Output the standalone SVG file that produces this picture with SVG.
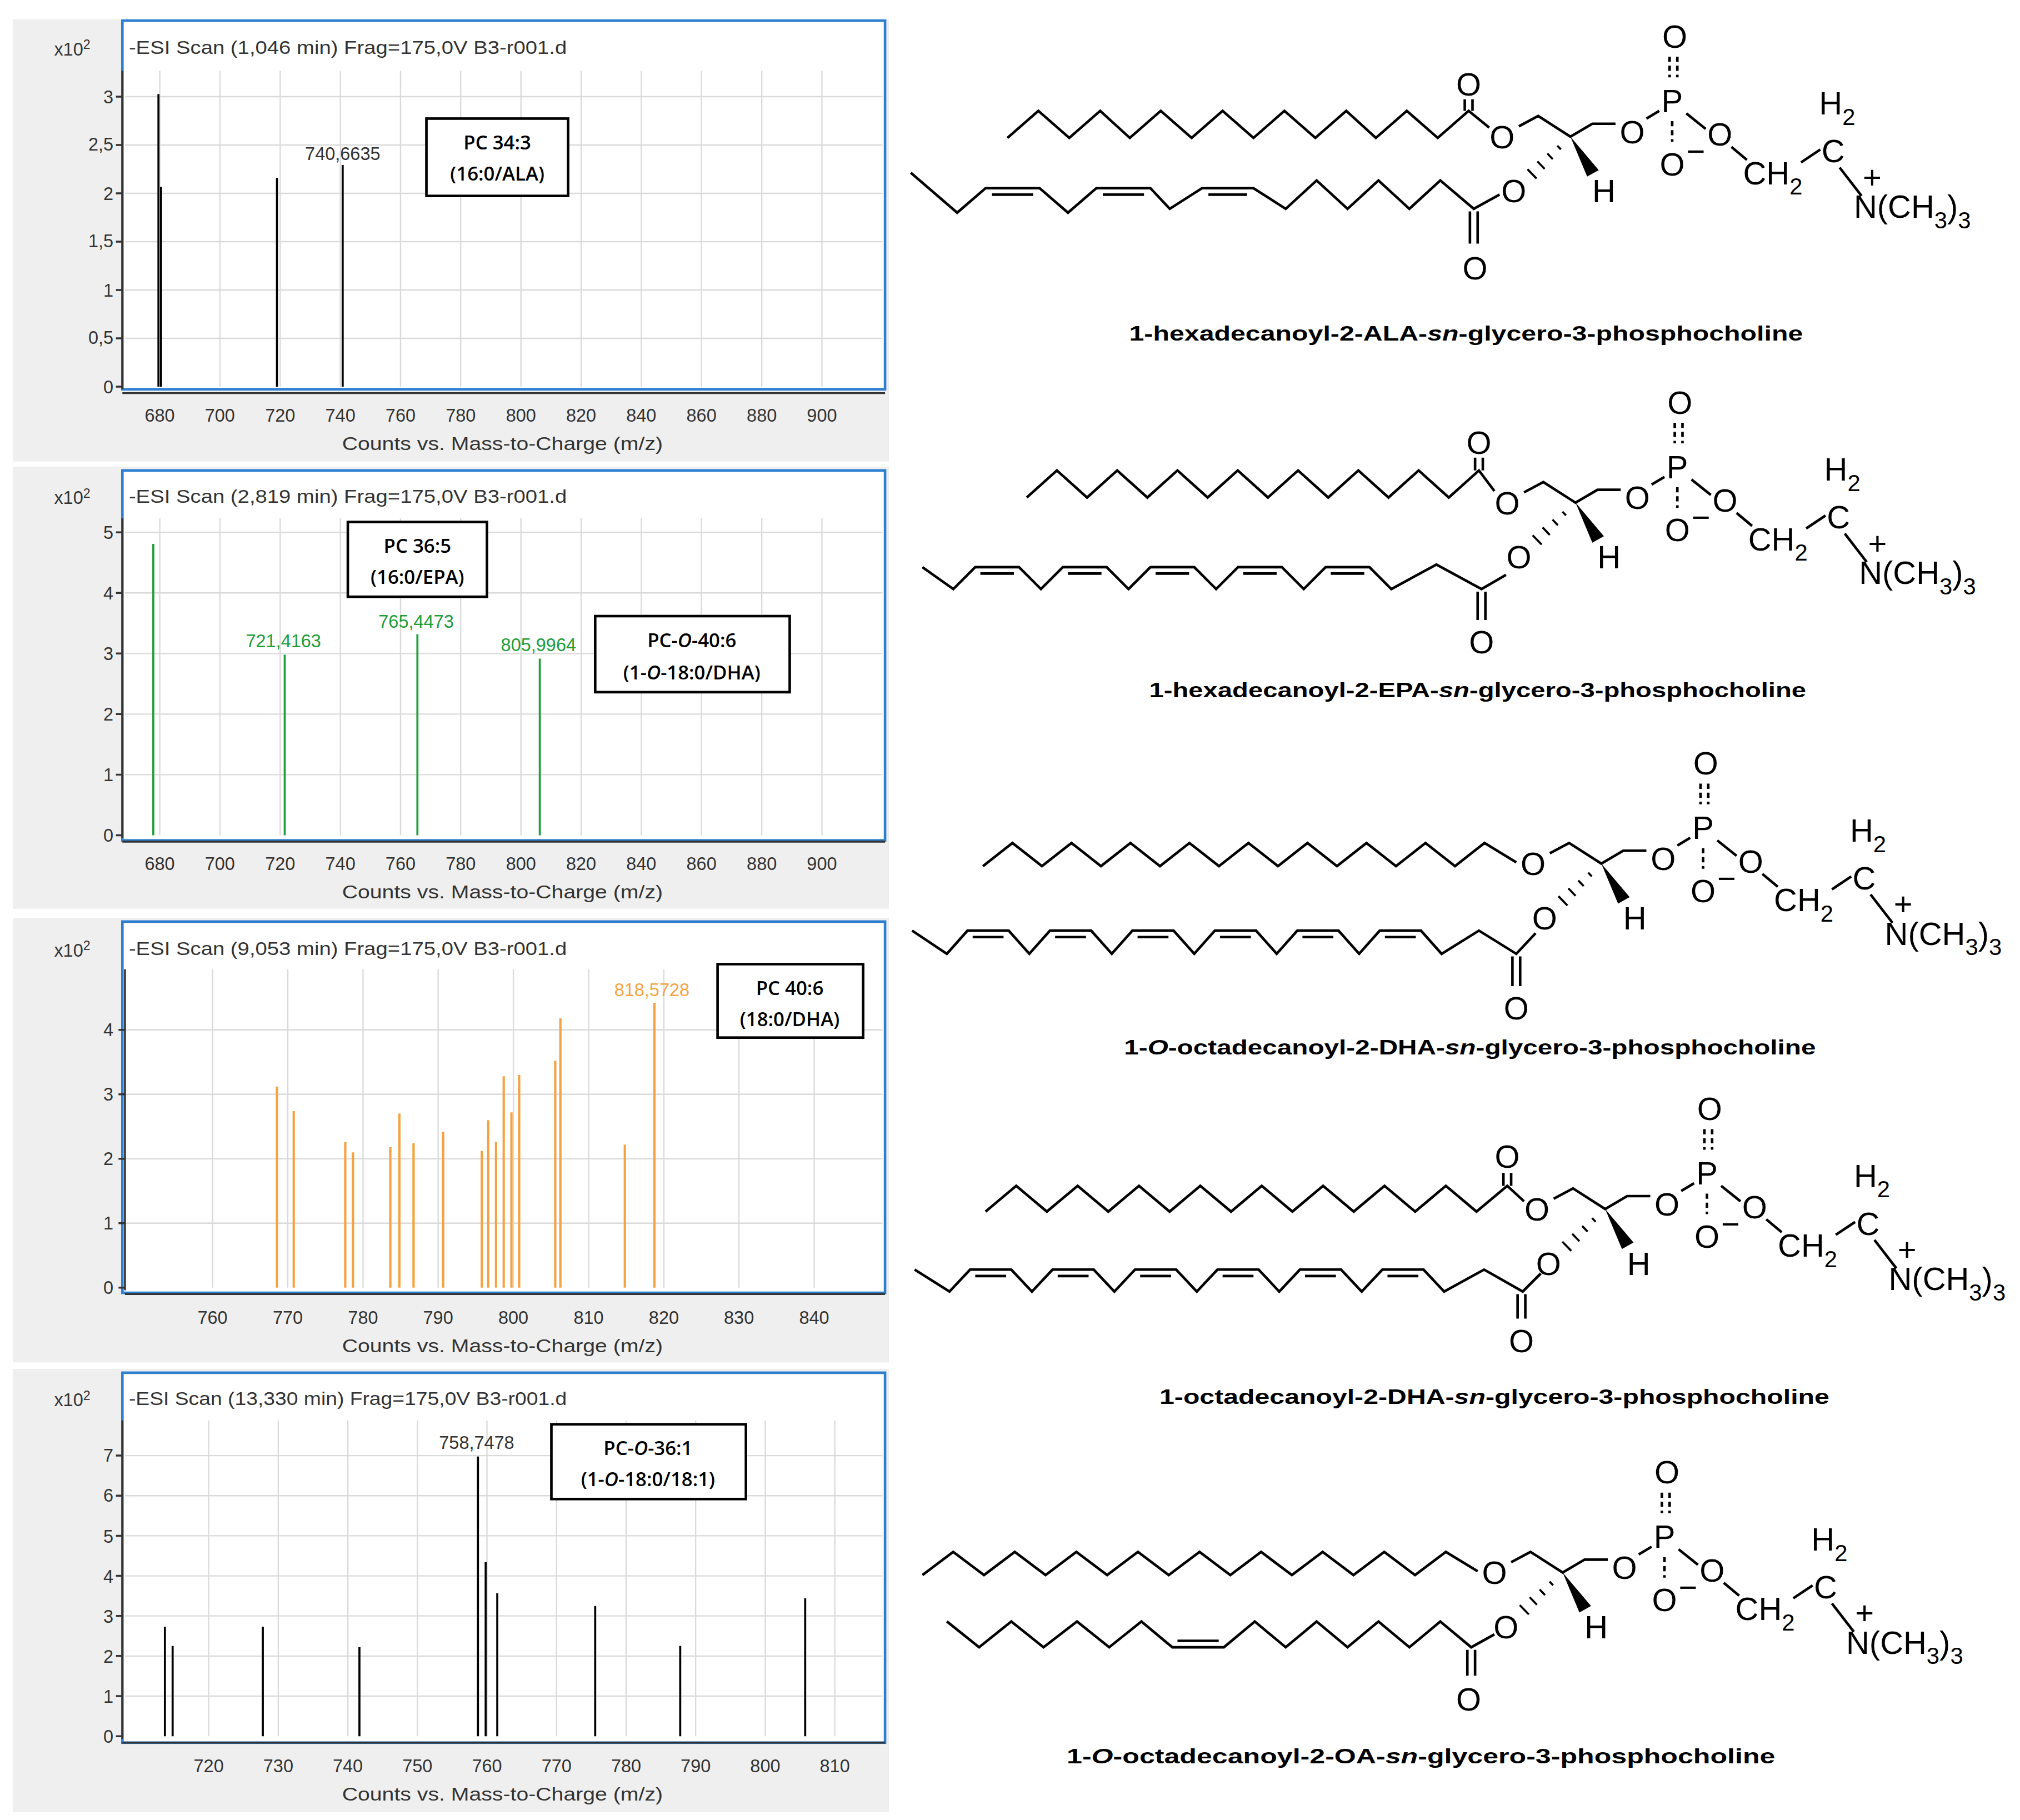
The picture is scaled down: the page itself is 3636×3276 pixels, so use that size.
<svg xmlns="http://www.w3.org/2000/svg" width="3636" height="3276" viewBox="0 0 3636 3276">
<style>
.bg{fill:#efefef}
.fr{fill:#fff;stroke:#2e7fd0;stroke-width:2}
.gr{stroke:#dadada;stroke-width:1}
.ax{stroke:#333;stroke-width:1.5;fill:none}
.tk{font-family:"Liberation Sans",Arial,sans-serif;font-size:14px;fill:#333}
.tl{font-family:"Liberation Sans",Arial,sans-serif;font-size:14px;fill:#333}
.box{fill:#fff;stroke:#000;stroke-width:2}
.bt{font-family:"Open Sans","Liberation Sans",sans-serif;font-size:15px;font-weight:600;fill:#000;text-anchor:middle}
.pk{stroke:#000;stroke-width:1.6}
.pg{stroke:#1f9e3a;stroke-width:1.6}
.po{stroke:#f5a342;stroke-width:1.8}
.bd{stroke:#000;stroke-width:2;fill:none;stroke-linejoin:miter}
.at{font-family:"Liberation Sans",Arial,sans-serif;font-size:25px;fill:#000;text-anchor:middle}
.ats{font-family:"Liberation Sans",Arial,sans-serif;font-size:25px;fill:#000}
.cap{font-family:"Liberation Sans",Arial,sans-serif;font-size:16px;font-weight:bold;fill:#000;text-anchor:middle}
</style>
<defs>
<g id="head">
<text class="at" x="0" y="9">O</text>
<polyline class="bd" points="13,-8 28,-16 53,0 70,-10 88,-10"/>
<text class="at" x="101" y="5">O</text>
<line class="bd" x1="112" y1="-14" x2="122" y2="-20"/>
<text class="at" x="132" y="-19">P</text>
<text class="at" x="134" y="-69">O</text>
<line class="bd" x1="130" y1="-62" x2="130" y2="-46" stroke-dasharray="4 3"/>
<line class="bd" x1="136" y1="-62" x2="136" y2="-46" stroke-dasharray="4 3"/>
<line class="bd" x1="132" y1="-12" x2="132" y2="4" stroke-dasharray="4 3"/>
<text class="at" x="132" y="30">O</text>
<text class="ats" x="143" y="20" font-size="16">−</text>
<line class="bd" x1="143" y1="-18" x2="158" y2="-6"/>
<text class="at" x="169" y="7">O</text>
<line class="bd" x1="178" y1="8" x2="190" y2="18"/>
<text class="ats" x="187" y="37">CH<tspan font-size="18" dy="8">2</tspan></text>
<line class="bd" x1="232" y1="20" x2="247" y2="10"/>
<text class="at" x="257" y="20">C</text>
<text class="ats" x="246" y="-17">H<tspan font-size="18" dy="8">2</tspan></text>
<line class="bd" x1="262" y1="24" x2="279" y2="46"/>
<text class="ats" x="273" y="63">N(CH<tspan font-size="18" dy="8">3</tspan><tspan dy="-8">)</tspan><tspan font-size="18" dy="8">3</tspan></text>
<text class="ats" x="280" y="40" font-size="14">+</text>
<polygon points="53,0 66,31 75,26" fill="#000"/>
<text class="at" x="79" y="51">H</text>
<g stroke="#000" stroke-width="1.6">
<line x1="42.8" y1="7" x2="45.6" y2="9.9"/><line x1="35.1" y1="13.1" x2="39.3" y2="17.5"/><line x1="27.4" y1="19.2" x2="33" y2="25"/><line x1="19.7" y1="25.3" x2="26.7" y2="32.5"/>
</g>
<text class="at" x="9" y="51">O</text>
</g>
</defs>
<rect width="3636" height="3276" fill="#fff"/>
<g transform="scale(2.3189,2.3201)">
<g id="panel1">
<rect class="bg" x="10" y="15" width="680" height="343"/>
<rect class="fr" x="95" y="16" width="592" height="286"/>
<g class="gr">
<line x1="124" y1="55" x2="124" y2="300"/><line x1="170.7" y1="55" x2="170.7" y2="300"/><line x1="217.5" y1="55" x2="217.5" y2="300"/><line x1="264.2" y1="55" x2="264.2" y2="300"/><line x1="310.9" y1="55" x2="310.9" y2="300"/><line x1="357.6" y1="55" x2="357.6" y2="300"/><line x1="404.4" y1="55" x2="404.4" y2="300"/><line x1="451.1" y1="55" x2="451.1" y2="300"/><line x1="497.8" y1="55" x2="497.8" y2="300"/><line x1="544.5" y1="55" x2="544.5" y2="300"/><line x1="591.3" y1="55" x2="591.3" y2="300"/><line x1="638" y1="55" x2="638" y2="300"/>
<line x1="97" y1="262.5" x2="685" y2="262.5"/><line x1="97" y1="225" x2="685" y2="225"/><line x1="97" y1="187.5" x2="685" y2="187.5"/><line x1="97" y1="150" x2="685" y2="150"/><line x1="97" y1="112.5" x2="685" y2="112.5"/><line x1="97" y1="75" x2="685" y2="75"/>
</g>
<path class="ax" d="M95,55V302M90,300H95M90,262.5H95M90,225H95M90,187.5H95M90,150H95M90,112.5H95M90,75H95M95,305H687"/>
<g class="tk" text-anchor="end"><text x="88" y="305">0</text><text x="88" y="267">0,5</text><text x="88" y="230">1</text><text x="88" y="192">1,5</text><text x="88" y="155">2</text><text x="88" y="117">2,5</text><text x="88" y="80">3</text></g>
<g class="tk" text-anchor="middle"><text x="124" y="327">680</text><text x="170.7" y="327">700</text><text x="217.5" y="327">720</text><text x="264.2" y="327">740</text><text x="310.9" y="327">760</text><text x="357.6" y="327">780</text><text x="404.4" y="327">800</text><text x="451.1" y="327">820</text><text x="497.8" y="327">840</text><text x="544.5" y="327">860</text><text x="591.3" y="327">880</text><text x="638" y="327">900</text></g>
<text class="tk" x="390" y="349" text-anchor="middle" textLength="249" lengthAdjust="spacingAndGlyphs">Counts vs. Mass-to-Charge (m/z)</text>
<text class="tl" x="100" y="42" textLength="340" lengthAdjust="spacingAndGlyphs">-ESI Scan (1,046 min) Frag=175,0V B3-r001.d</text>
<text class="tk" x="42" y="43">x10<tspan font-size="10" dy="-5">2</tspan></text>
<line class="pk" x1="123" y1="300" x2="123" y2="73"/><line class="pk" x1="125" y1="300" x2="125" y2="145"/><line class="pk" x1="215" y1="300" x2="215" y2="138"/><line class="pk" x1="266" y1="300" x2="266" y2="128"/>
<text class="tk" x="266" y="124" text-anchor="middle">740,6635</text>
<rect class="box" x="331" y="92" width="110" height="60"/>
<text class="bt" x="386" y="116">PC 34:3</text><text class="bt" x="386" y="140">(16:0/ALA)</text>
</g>
<g id="panel2">
<rect class="bg" x="10" y="362" width="680" height="343"/>
<rect class="fr" x="95" y="365" width="592" height="287"/>
<g class="gr">
<line x1="124" y1="402" x2="124" y2="648"/><line x1="170.7" y1="402" x2="170.7" y2="648"/><line x1="217.5" y1="402" x2="217.5" y2="648"/><line x1="264.2" y1="402" x2="264.2" y2="648"/><line x1="310.9" y1="402" x2="310.9" y2="648"/><line x1="357.6" y1="402" x2="357.6" y2="648"/><line x1="404.4" y1="402" x2="404.4" y2="648"/><line x1="451.1" y1="402" x2="451.1" y2="648"/><line x1="497.8" y1="402" x2="497.8" y2="648"/><line x1="544.5" y1="402" x2="544.5" y2="648"/><line x1="591.3" y1="402" x2="591.3" y2="648"/><line x1="638" y1="402" x2="638" y2="648"/>
<line x1="97" y1="601" x2="685" y2="601"/><line x1="97" y1="554" x2="685" y2="554"/><line x1="97" y1="507" x2="685" y2="507"/><line x1="97" y1="460" x2="685" y2="460"/><line x1="97" y1="413" x2="685" y2="413"/>
</g>
<path class="ax" d="M95,402V650M90,648H95M90,601H95M90,554H95M90,507H95M90,460H95M90,413H95M95,653H687"/>
<g class="tk" text-anchor="end"><text x="88" y="653">0</text><text x="88" y="606">1</text><text x="88" y="559">2</text><text x="88" y="512">3</text><text x="88" y="465">4</text><text x="88" y="418">5</text></g>
<g class="tk" text-anchor="middle"><text x="124" y="675">680</text><text x="170.7" y="675">700</text><text x="217.5" y="675">720</text><text x="264.2" y="675">740</text><text x="310.9" y="675">760</text><text x="357.6" y="675">780</text><text x="404.4" y="675">800</text><text x="451.1" y="675">820</text><text x="497.8" y="675">840</text><text x="544.5" y="675">860</text><text x="591.3" y="675">880</text><text x="638" y="675">900</text></g>
<text class="tk" x="390" y="697" text-anchor="middle" textLength="249" lengthAdjust="spacingAndGlyphs">Counts vs. Mass-to-Charge (m/z)</text>
<text class="tl" x="100" y="390" textLength="340" lengthAdjust="spacingAndGlyphs">-ESI Scan (2,819 min) Frag=175,0V B3-r001.d</text>
<text class="tk" x="42" y="391">x10<tspan font-size="10" dy="-5">2</tspan></text>
<line class="pg" x1="119" y1="648" x2="119" y2="422"/><line class="pg" x1="221" y1="648" x2="221" y2="508"/><line class="pg" x1="324" y1="648" x2="324" y2="492"/><line class="pg" x1="419" y1="648" x2="419" y2="511"/>
<g class="tk" text-anchor="middle" style="fill:#1f9e3a"><text x="220" y="502">721,4163</text><text x="323" y="487">765,4473</text><text x="418" y="505">805,9964</text></g>
<rect class="box" x="270" y="405" width="108" height="58"/>
<text class="bt" x="324" y="429">PC 36:5</text><text class="bt" x="324" y="453">(16:0/EPA)</text>
<rect class="box" x="462" y="478" width="151" height="59"/>
<text class="bt" x="537" y="502">PC-<tspan font-style="italic">O</tspan>-40:6</text><text class="bt" x="537" y="527">(1-<tspan font-style="italic">O</tspan>-18:0/DHA)</text>
</g>
<g id="panel3">
<rect class="bg" x="10" y="712" width="680" height="345"/>
<rect class="fr" x="95" y="715" width="592" height="288"/>
<g class="gr">
<line x1="165" y1="752" x2="165" y2="999"/><line x1="223.4" y1="752" x2="223.4" y2="999"/><line x1="281.8" y1="752" x2="281.8" y2="999"/><line x1="340.1" y1="752" x2="340.1" y2="999"/><line x1="398.5" y1="752" x2="398.5" y2="999"/><line x1="456.9" y1="752" x2="456.9" y2="999"/><line x1="515.3" y1="752" x2="515.3" y2="999"/><line x1="573.6" y1="752" x2="573.6" y2="999"/><line x1="632" y1="752" x2="632" y2="999"/>
<line x1="97" y1="949" x2="685" y2="949"/><line x1="97" y1="899" x2="685" y2="899"/><line x1="97" y1="849" x2="685" y2="849"/><line x1="97" y1="799" x2="685" y2="799"/>
</g>
<path class="ax" d="M97,752V1001M92,999H97M92,949H97M92,899H97M92,849H97M92,799H97M97,1004H687"/>
<g class="tk" text-anchor="end"><text x="88" y="1004">0</text><text x="88" y="954">1</text><text x="88" y="904">2</text><text x="88" y="854">3</text><text x="88" y="804">4</text></g>
<g class="tk" text-anchor="middle"><text x="165" y="1027">760</text><text x="223.4" y="1027">770</text><text x="281.8" y="1027">780</text><text x="340.1" y="1027">790</text><text x="398.5" y="1027">800</text><text x="456.9" y="1027">810</text><text x="515.3" y="1027">820</text><text x="573.6" y="1027">830</text><text x="632" y="1027">840</text></g>
<text class="tk" x="390" y="1049" text-anchor="middle" textLength="249" lengthAdjust="spacingAndGlyphs">Counts vs. Mass-to-Charge (m/z)</text>
<text class="tl" x="100" y="741" textLength="340" lengthAdjust="spacingAndGlyphs">-ESI Scan (9,053 min) Frag=175,0V B3-r001.d</text>
<text class="tk" x="42" y="742">x10<tspan font-size="10" dy="-5">2</tspan></text>
<path class="po" d="M215,999V843M228,999V862M268,999V886M274,999V894M303,999V890M310,999V864M321,999V887M344,999V878M374,999V893M379,999V869M385,999V886M391,999V835M397,999V863M403,999V834M431,999V823M435,999V790M485,999V888M508,999V778"/>
<text class="tk" x="506" y="773" text-anchor="middle" style="fill:#f5a342">818,5728</text>
<rect class="box" x="557" y="748" width="113" height="57"/>
<text class="bt" x="613" y="772">PC 40:6</text><text class="bt" x="613" y="796">(18:0/DHA)</text>
</g>
<g id="panel4">
<rect class="bg" x="10" y="1062" width="680" height="344"/>
<rect class="fr" x="95" y="1065" width="592" height="287"/>
<g class="gr">
<line x1="162" y1="1102" x2="162" y2="1347"/><line x1="216" y1="1102" x2="216" y2="1347"/><line x1="270" y1="1102" x2="270" y2="1347"/><line x1="324" y1="1102" x2="324" y2="1347"/><line x1="378" y1="1102" x2="378" y2="1347"/><line x1="432" y1="1102" x2="432" y2="1347"/><line x1="486" y1="1102" x2="486" y2="1347"/><line x1="540" y1="1102" x2="540" y2="1347"/><line x1="594" y1="1102" x2="594" y2="1347"/><line x1="648" y1="1102" x2="648" y2="1347"/>
<line x1="97" y1="1315.9" x2="685" y2="1315.9"/><line x1="97" y1="1284.8" x2="685" y2="1284.8"/><line x1="97" y1="1253.7" x2="685" y2="1253.7"/><line x1="97" y1="1222.6" x2="685" y2="1222.6"/><line x1="97" y1="1191.5" x2="685" y2="1191.5"/><line x1="97" y1="1160.4" x2="685" y2="1160.4"/><line x1="97" y1="1129.3" x2="685" y2="1129.3"/>
</g>
<path class="ax" d="M95,1102V1349M90,1347H95M90,1315.9H95M90,1284.8H95M90,1253.7H95M90,1222.6H95M90,1191.5H95M90,1160.4H95M90,1129.3H95M95,1352H687"/>
<g class="tk" text-anchor="end"><text x="88" y="1352">0</text><text x="88" y="1321">1</text><text x="88" y="1290">2</text><text x="88" y="1259">3</text><text x="88" y="1228">4</text><text x="88" y="1197">5</text><text x="88" y="1165">6</text><text x="88" y="1134">7</text></g>
<g class="tk" text-anchor="middle"><text x="162" y="1375">720</text><text x="216" y="1375">730</text><text x="270" y="1375">740</text><text x="324" y="1375">750</text><text x="378" y="1375">760</text><text x="432" y="1375">770</text><text x="486" y="1375">780</text><text x="540" y="1375">790</text><text x="594" y="1375">800</text><text x="648" y="1375">810</text></g>
<text class="tk" x="390" y="1397" text-anchor="middle" textLength="249" lengthAdjust="spacingAndGlyphs">Counts vs. Mass-to-Charge (m/z)</text>
<text class="tl" x="100" y="1090" textLength="340" lengthAdjust="spacingAndGlyphs">-ESI Scan (13,330 min) Frag=175,0V B3-r001.d</text>
<text class="tk" x="42" y="1091">x10<tspan font-size="10" dy="-5">2</tspan></text>
<path class="pk" d="M128,1347V1262M134,1347V1277M204,1347V1262M279,1347V1278M371,1347V1130M377,1347V1212M386,1347V1236M462,1347V1246M528,1347V1277M625,1347V1240"/>
<text class="tk" x="370" y="1124" text-anchor="middle">758,7478</text>
<rect class="box" x="428" y="1105" width="151" height="58"/>
<text class="bt" x="503" y="1129">PC-<tspan font-style="italic">O</tspan>-36:1</text><text class="bt" x="503" y="1153">(1-<tspan font-style="italic">O</tspan>-18:0/18:1)</text>
</g>

<g id="mol1">
<polyline class="bd" points="782,107 806,86 830,107 854,86 877,107 901,86 925,107 949,86 973,107 997,86 1021,107 1045,86 1068,107 1092,86 1116,107 1140,86 1156,99"/>
<path class="bd" d="M1137,86V77M1143,86V77"/>
<text class="at" x="1140" y="74">O</text>
<polyline class="bd" points="707,134 743,165 765,146 807,146 829,165 851,146 893,146 908,162 933,146 973,146 998,162 1022,140 1046,162 1070,140 1094,162 1118,140 1144,162 1164,151"/>
<path class="bd" d="M770,151H802M856,151H888M938,151H968M1141,164V189M1147,164V189"/>
<text class="at" x="1145" y="217">O</text>
<use href="#head" x="1166" y="106"/>
<text class="cap" x="1138" y="264" textLength="523" lengthAdjust="spacingAndGlyphs">1-hexadecanoyl-2-ALA-<tspan font-style="italic">sn</tspan>-glycero-3-phosphocholine</text>
</g>
<g id="mol2">
<polyline class="bd" points="797,386 820.4,365 843.8,386 867.2,365 890.6,386 914,365 937.4,386 960.8,365 984.2,386 1007.6,365 1031,386 1054.4,365 1077.8,386 1101.2,365 1124.6,386 1148,365 1160,381"/>
<path class="bd" d="M1145,365V355M1151,365V355"/>
<text class="at" x="1148" y="352">O</text>
<polyline class="bd" points="716,440 740,457 757,440 791,440 808,457 825,440 859,440 876,457 893,440 927,440 944,457 961,440 995,440 1012,457 1029,440 1063,440 1080,457 1115,438 1150,457 1169,446"/>
<path class="bd" d="M761,445H787M829,445H855M897,445H923M965,445H991M1033,445H1059M1147,459V481M1153,459V481"/>
<text class="at" x="1150" y="507">O</text>
<use href="#head" x="1170" y="390"/>
<text class="cap" x="1147" y="541" textLength="510" lengthAdjust="spacingAndGlyphs">1-hexadecanoyl-2-EPA-<tspan font-style="italic">sn</tspan>-glycero-3-phosphocholine</text>
</g>
<g id="mol3">
<polyline class="bd" points="763,672 785.9,654 808.8,672 831.7,654 854.6,672 877.5,654 900.4,672 923.3,654 946.2,672 969.1,654 992,672 1014.9,654 1037.8,672 1060.7,654 1083.6,672 1106.5,654 1129.4,672 1152.3,654 1177,669"/>
<polyline class="bd" points="708,722 735,740 751,722 783,722 799,740 815,722 847,722 863,740 879,722 911,722 927,740 943,722 975,722 991,740 1007,722 1039,722 1055,740 1071,722 1103,722 1119,740 1148,722 1177,740 1192,724"/>
<path class="bd" d="M755,727H779M819,727H843M883,727H907M947,727H971M1011,727H1035M1075,727H1099M1174,742V765M1180,742V765"/>
<text class="at" x="1177" y="791">O</text>
<use href="#head" x="1190" y="670"/>
<text class="cap" x="1141" y="818" textLength="537" lengthAdjust="spacingAndGlyphs">1-<tspan font-style="italic">O</tspan>-octadecanoyl-2-DHA-<tspan font-style="italic">sn</tspan>-glycero-3-phosphocholine</text>
</g>
<g id="mol4">
<polyline class="bd" points="765,940 788.8,920 812.6,940 836.5,920 860.3,940 884.1,920 907.9,940 931.7,920 955.6,940 979.4,920 1003.2,940 1027,920 1050.8,940 1074.7,920 1098.5,940 1122.3,920 1146.1,940 1170,920 1183,932"/>
<path class="bd" d="M1167,920V910M1173,920V910"/>
<text class="at" x="1170" y="906">O</text>
<polyline class="bd" points="710,985 737,1002 753,985 785,985 801,1002 817,985 849,985 865,1002 881,985 913,985 929,1002 945,985 977,985 993,1002 1009,985 1041,985 1057,1002 1073,985 1105,985 1121,1002 1152,985 1182,1002 1196,988"/>
<path class="bd" d="M757,990H781M821,990H845M885,990H909M949,990H973M1013,990H1037M1077,990H1101M1178,1004V1023M1184,1004V1023"/>
<text class="at" x="1181" y="1049">O</text>
<use href="#head" x="1193" y="938"/>
<text class="cap" x="1160" y="1089" textLength="520" lengthAdjust="spacingAndGlyphs">1-octadecanoyl-2-DHA-<tspan font-style="italic">sn</tspan>-glycero-3-phosphocholine</text>
</g>
<g id="mol5">
<polyline class="bd" points="716,1222 739.9,1204 763.8,1222 787.7,1204 811.6,1222 835.5,1204 859.4,1222 883.3,1204 907.2,1222 931.1,1204 955,1222 978.9,1204 1002.8,1222 1026.7,1204 1050.6,1222 1074.5,1204 1098.4,1222 1122.3,1204 1147,1219"/>
<polyline class="bd" points="735,1258 760,1278 785,1258 810,1278 836,1258 861,1278 886,1258 910,1278 950,1278 974,1258 998,1278 1022,1258 1046,1278 1070,1258 1094,1278 1118,1258 1142,1278 1160,1268"/>
<path class="bd" d="M914,1273H946M1139,1280V1300M1145,1280V1300"/>
<text class="at" x="1140" y="1327">O</text>
<use href="#head" x="1160" y="1220"/>
<text class="cap" x="1103" y="1368" textLength="550" lengthAdjust="spacingAndGlyphs">1-<tspan font-style="italic">O</tspan>-octadecanoyl-2-OA-<tspan font-style="italic">sn</tspan>-glycero-3-phosphocholine</text>
</g>
</g>
</svg>
